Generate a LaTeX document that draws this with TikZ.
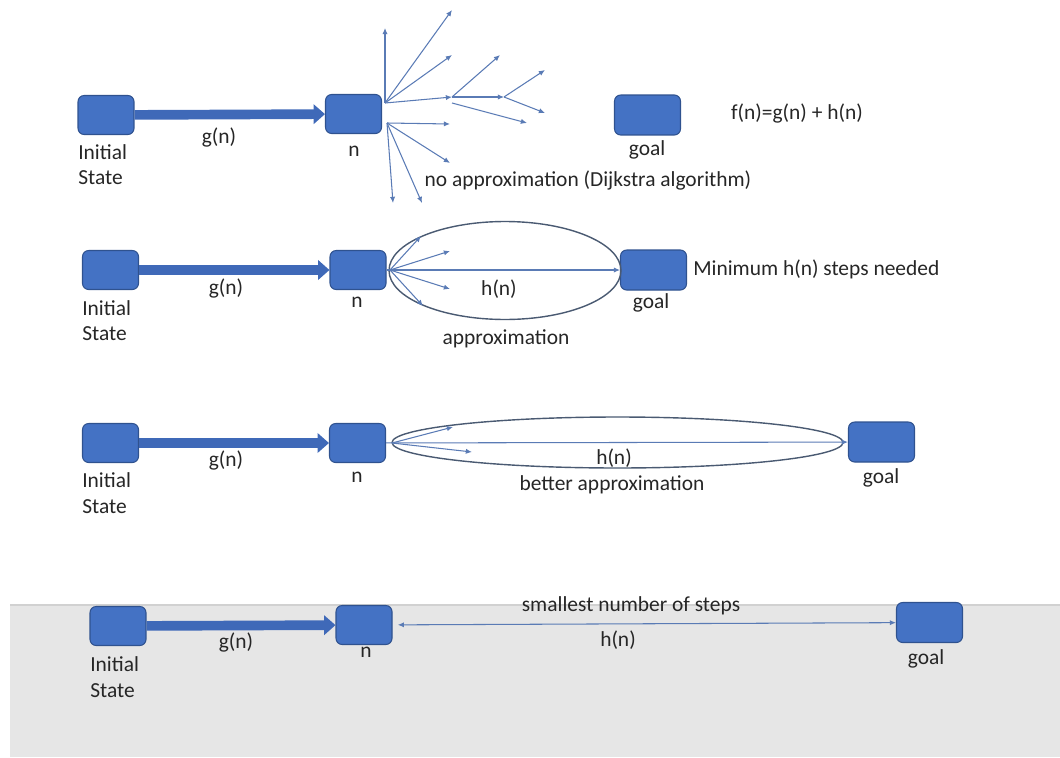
\documentclass[tikz,border=0pt]{standalone}
\usepackage{fontspec}
\setmainfont{Carlito}
\usetikzlibrary{arrows.meta,positioning}
\definecolor{boxblue}{HTML}{4472C4}
\definecolor{boxedge}{HTML}{2F528F}
\definecolor{costblue}{HTML}{3F69B8}
\definecolor{linkblue}{HTML}{5A7BB5}
\definecolor{rimgray}{HTML}{4A5A72}
\definecolor{textgray}{HTML}{262626}
\definecolor{panelgray}{HTML}{E6E6E6}
\tikzset{
	% ------- every something
	every node/.style={
		font=\fontsize{12.2}{14.7}\selectfont,
		text=textgray,
	},
	every path/.style={
		line width=0.6pt,
	},
	% ------- custom
	state/.style={
		draw=boxedge, fill=boxblue,
		rounded corners=3.5pt,
		minimum width=1.12cm, minimum height=0.78cm,
		inner sep=0pt,
	},
	goalstate/.style={
		state,
		minimum width=1.32cm, minimum height=0.8cm,
	},
	cost/.style={
		costblue,
		line width=5.5pt,
		-{Triangle[length=6.5pt,width=11pt]},
	},
	branch/.style={
		linkblue,
		-{Latex[length=3.5pt,width=3pt]},
	},
	bothways/.style={
		linkblue,
		{Latex[length=3.5pt,width=3pt]}-{Latex[length=3.5pt,width=3pt]},
	},
	rim/.style={
		rimgray,
		line width=0.8pt,
	},
	lbl/.style={
		inner sep=1pt,
		text height=0.7em, text depth=0.2em,
	},
	caption/.style={
		inner sep=1pt,
		align=left,
		anchor=north west,
	},
}

\begin{document}
\begin{tikzpicture}[x=0.02cm, y=-0.02cm]

% frame and panel %{{{2

	\useasboundingbox (0,0) rectangle (1060,757);
	\fill[panelgray] (10,605) rectangle (1060,757);
	\draw[black!18] (10,605) -- (1060,605);

% states %{{{2

	\node[state] (init1) at (106,115) {};
	\node[state] (n1) at (353.5,114) {};
	\node[goalstate] (goal1) at (647.5,115) {};

	\node[state] (init2) at (110.5,270) {};
	\node[state] (n2) at (358,270) {};
	\node[goalstate] (goal2) at (653.5,270) {};

	\node[state] (init3) at (110.5,443) {};
	\node[state] (n3) at (357.5,443) {};
	\node[goalstate] (goal3) at (881.5,442) {};

	\node[state] (init4) at (118,626) {};
	\node[state] (n4) at (364,625) {};
	\node[goalstate] (goal4) at (929.5,622.5) {};

% coordinates %{{{2

	\coordinate (fanA) at (385,103);
	\coordinate (fanB) at (387,123);
	\coordinate (hubA) at (452,97);
	\coordinate (hubB) at (504,97);

	\coordinate (upA) at (385,28);
	\coordinate (upB) at (452,10);
	\coordinate (upC) at (452,55);
	\coordinate (upD) at (500,55);
	\coordinate (upE) at (545,70);
	\coordinate (dnA) at (545,113);
	\coordinate (dnB) at (527,123);
	\coordinate (dnC) at (450,124);
	\coordinate (dnD) at (450,163);
	\coordinate (dnE) at (393,203);
	\coordinate (dnF) at (422,203);

	\coordinate (tip2) at (390,270);
	\coordinate (rimA) at (421,236);
	\coordinate (rimB) at (450,251);
	\coordinate (rimC) at (450,289);
	\coordinate (rimD) at (423,306);

	\coordinate (tip3) at (392,443);
	\coordinate (slimA) at (453,427);
	\coordinate (slimB) at (472,452);

% cost arrows g(n) %{{{2

	\draw[cost] (init1) -- (n1);
	\draw[cost] (init2) -- (n2);
	\draw[cost] (init3) -- (n3);
	\draw[cost] (init4) -- (n4);

% no approximation fan %{{{2

	\draw[branch] (fanA) -- (upA);
	\draw[branch] (fanA) -- (upB);
	\draw[branch] (fanA) -- (upC);
	\draw[branch] (fanA) -- (hubA);
	\draw[branch] (hubA) -- (hubB);
	\draw[branch] (hubA) -- (upD);
	\draw[branch] (hubB) -- (upE);
	\draw[branch] (hubB) -- (dnA);
	\draw[branch] ([yshift=-0.12cm]hubA) -- (dnB);

	\draw[branch] (fanB) -- (dnC);
	\draw[branch] (fanB) -- (dnD);
	\draw[branch] (fanB) -- (dnE);
	\draw[branch] (fanB) -- (dnF);

% approximation ellipse %{{{2

	\draw[rim] (505,270.5) ellipse [x radius=2.32cm, y radius=0.98cm];
	\draw[branch] (n2) -- (goal2);
	\draw[branch] (tip2) -- (rimA);
	\draw[branch] (tip2) -- (rimB);
	\draw[branch] (tip2) -- (rimC);
	\draw[branch] (tip2) -- (rimD);

% better approximation ellipse %{{{2

	\draw[rim] (617.5,442.5) ellipse [x radius=4.51cm, y radius=0.51cm];
	\draw[branch] (n3) -- (goal3);
	\draw[branch] (tip3) -- (slimA);
	\draw[branch] (tip3) -- (slimB);

% exact h(n) %{{{2

	\draw[bothways, shorten <=3pt] (n4) -- (goal4);

% state labels %{{{2

	\node[caption] (initlbl1) at (76,142) {Initial\\State};
	\node[caption] (initlbl2) at (80,298) {Initial\\State};
	\node[caption] (initlbl3) at (80,470) {Initial\\State};
	\node[caption] (initlbl4) at (88,654) {Initial\\State};

	\node[lbl] (nlbl1) at (354,152) {n};
	\node[lbl] (nlbl2) at (357,303) {n};
	\node[lbl] (nlbl3) at (357,478) {n};
	\node[lbl] (nlbl4) at (366,653) {n};

	\node[lbl] (goallbl1) at (647,151) {goal};
	\node[lbl] (goallbl2) at (651,304) {goal};
	\node[lbl] (goallbl3) at (881,479) {goal};
	\node[lbl] (goallbl4) at (926,660) {goal};

% cost labels %{{{2

	\node[lbl] (glbl1) at (219,139) {g(n)};
	\node[lbl] (glbl2) at (226,290) {g(n)};
	\node[lbl] (glbl3) at (226,462) {g(n)};
	\node[lbl] (glbl4) at (236,644) {g(n)};

	\node[lbl] (hlbl2) at (499,291) {h(n)};
	\node[lbl] (hlbl3) at (614,460) {h(n)};
	\node[lbl] (hlbl4) at (618,642) {h(n)};

% captions %{{{2

	\node[lbl] (fsum) at (797,115) {f(n)=g(n) + h(n)};
	\node[lbl] (noapprox) at (588,182) {no approximation (Dijkstra algorithm)};
	\node[lbl, anchor=west] (minsteps) at (691,271) {Minimum h(n) steps needed};
	\node[lbl] (approx) at (506,340) {approximation};
	\node[lbl] (betterapprox) at (612,486) {better approximation};
	\node[lbl] (smallest) at (631,607) {smallest number of steps};

\end{tikzpicture}
\end{document}
